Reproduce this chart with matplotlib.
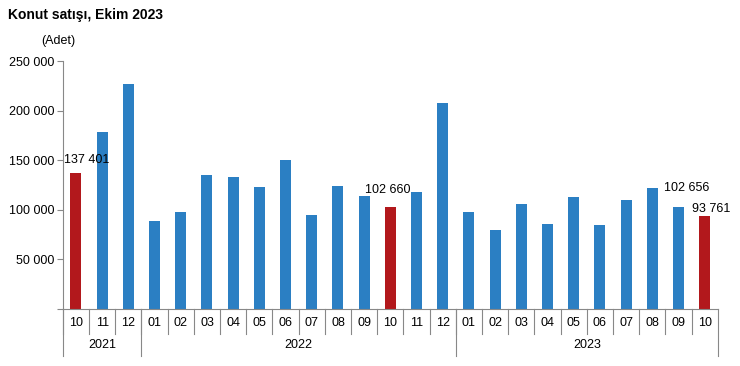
import matplotlib.pyplot as plt
from matplotlib.transforms import blended_transform_factory

plt.rcParams['font.family'] = ['Liberation Sans', 'DejaVu Sans']

months = ['10', '11', '12',
          '01', '02', '03', '04', '05', '06', '07', '08', '09', '10', '11', '12',
          '01', '02', '03', '04', '05', '06', '07', '08', '09', '10']
years = ['2021', '2022', '2023']
year_counts = [3, 12, 10]
sales = [137401, 178824, 226958,
         88932, 97755, 134737, 133157, 122638, 150509, 94280, 124110, 114052, 102660, 117813, 207860,
         97316, 80011, 105476, 85751, 113276, 84201, 109590, 121768, 102656, 93761]
highlight = [0, 12, 24]

blue = '#2b7fc3'
red = '#b2181c'
colors = [red if i in highlight else blue for i in range(len(sales))]

fig = plt.figure(figsize=(7.4, 3.66), dpi=100)
ax = fig.add_axes([0.085, 0.156, 0.885, 0.677])

x = list(range(len(sales)))
ax.bar(x, sales, width=0.42, color=colors)

ax.set_xlim(-0.5, len(sales) - 0.5)
ax.set_ylim(0, 250000)
ax.set_yticks([0, 50000, 100000, 150000, 200000, 250000])
ax.set_yticklabels(['', '50 000', '100 000', '150 000', '200 000', '250 000'], fontsize=9)
ax.tick_params(axis='y', length=4, color='#888888', pad=2)
ax.set_xticks([])

for s in ['top', 'right']:
    ax.spines[s].set_visible(False)
for s in ['left', 'bottom']:
    ax.spines[s].set_color('#888888')

trans = blended_transform_factory(ax.transData, ax.transAxes)
for i, m in enumerate(months):
    ax.text(i, -0.055, m, transform=trans, ha='center', va='center', fontsize=9)
    ax.plot([i - 0.5, i - 0.5], [0, -0.1], transform=trans, color='#888888', lw=0.8, clip_on=False)

start = 0
for yr, n in zip(years, year_counts):
    ax.plot([start - 0.5, start - 0.5], [0, -0.19], transform=trans, color='#888888', lw=0.8, clip_on=False)
    ax.text(start + (n - 1) / 2, -0.145, yr, transform=trans, ha='center', va='center', fontsize=9)
    start += n
ax.plot([start - 0.5, start - 0.5], [0, -0.19], transform=trans, color='#888888', lw=0.8, clip_on=False)

def fmt(v):
    return f'{v:,}'.replace(',', ' ')

ax.text(0.4, 150500, fmt(sales[0]), ha='center', va='center', fontsize=9)
ax.text(11.9, 120000, fmt(sales[12]), ha='center', va='center', fontsize=9)
ax.text(23.3, 122000, fmt(sales[23]), ha='center', va='center', fontsize=9)
ax.text(24.25, 100800, fmt(sales[24]), ha='center', va='center', fontsize=9)

fig.text(0.011, 0.958, 'Konut satışı, Ekim 2023', fontsize=10, fontweight='bold', va='center')
fig.text(0.056, 0.887, '(Adet)', fontsize=9, va='center')

fig.savefig('out.png', dpi=100)
